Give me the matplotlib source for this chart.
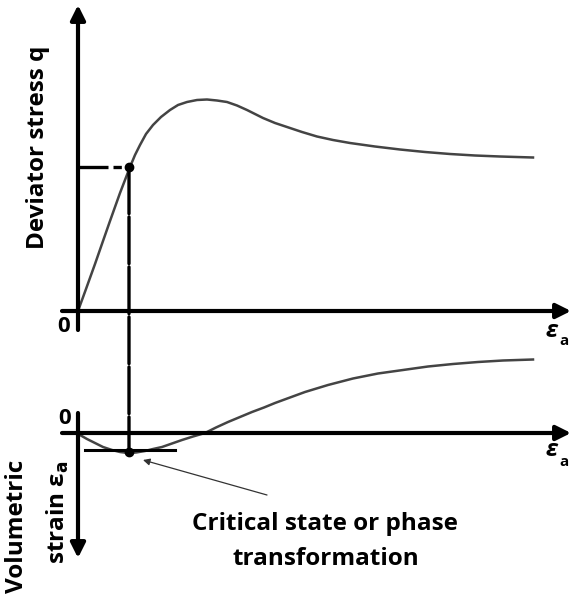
import matplotlib.pyplot as plt
from matplotlib.patches import ConnectionPatch

plt.rcParams['font.family'] = ['Open Sans', 'DejaVu Sans']

# schematic units (arbitrary): axial strain, deviator stress, volumetric strain
strain_q = [0, 8, 17, 25, 32, 42, 52, 57, 62, 68, 75, 83, 92, 100, 109, 119, 129, 139, 149,
            159, 169, 177, 185, 197, 209, 224, 239, 255, 272, 297, 322, 347, 372, 397, 422, 455]
q = [0, 22, 47, 70, 90, 118, 144, 156, 166, 177, 186, 194, 201, 206, 209, 211, 211.5, 210.5, 209,
     205.5, 201, 197, 193, 188, 184, 179, 174.5, 171, 168, 164.5, 161.5, 159, 157, 155.5, 154.5, 153.5]

strain_v = [0, 2, 9, 17, 25, 34, 42, 50, 58, 67, 75, 84, 94, 104, 115, 127, 138, 150, 162, 174,
            186, 197, 212, 227, 250, 275, 300, 325, 350, 375, 400, 425, 455]
vol = [0, 2, 6, 10, 14, 17, 19, 20, 19.5, 18, 16, 14, 10.5, 7, 3.5, 0, -5.5, -11, -16, -21,
       -25.5, -30, -35.5, -41, -48, -54.5, -59.5, -63, -66.5, -69, -71, -72.5, -73.5]

crit_strain = 51
crit_q = 144
crit_vol = 19

curve_col = '#444444'

fig = plt.figure(figsize=(5.72, 5.98), dpi=100)
top = fig.add_axes([0, 268 / 598, 1, 330 / 598])
bot = fig.add_axes([0, 0, 1, 268 / 598])
top.set_xlim(-78, 494)
top.set_ylim(-19, 311)
bot.set_xlim(-78, 494)
bot.set_ylim(165, -103)
for ax in (top, bot):
    ax.axis('off')

arrow = dict(arrowstyle='-|>', lw=3, color='black', mutation_scale=22, shrinkA=0, shrinkB=0)

# top panel
top.annotate('', xy=(0, 306), xytext=(0, -19), arrowprops=arrow)
top.annotate('', xy=(493, 0), xytext=(-16, 0), arrowprops=arrow)
top.plot(strain_q, q, color=curve_col, lw=1.8, solid_joinstyle='round')
top.plot([0, crit_strain], [crit_q, crit_q], color='black', lw=2.4, dashes=(9, 1.5, 2.5, 1.5))
top.plot(crit_strain, crit_q, 'o', color='black', ms=6)
top.text(-14, -16, '0', fontsize=16, fontweight='bold', ha='center', va='center')
top.text(-40, 164, 'Deviator stress q', fontsize=17.5, fontweight='bold', rotation=90,
         ha='center', va='center')
top.text(474, -20, 'ε', fontsize=17, fontweight='bold', style='italic', ha='center', va='center')
top.text(486, -30, 'a', fontsize=11, fontweight='bold', ha='center', va='center')

# lower panel
bot.annotate('', xy=(0, 125), xytext=(0, -20), arrowprops=arrow)
bot.annotate('', xy=(493, 0), xytext=(-16, 0), arrowprops=arrow)
bot.plot(strain_v, vol, color=curve_col, lw=1.8, solid_joinstyle='round')
bot.plot([7, 97], [17, 17], color='black', lw=2.2)
bot.plot(crit_strain, crit_vol, 'o', color='black', ms=6)
bot.text(-13, -14, '0', fontsize=16, fontweight='bold', ha='center', va='center')
bot.text(474, 17, 'ε', fontsize=17, fontweight='bold', style='italic', ha='center', va='center')
bot.text(486, 29, 'a', fontsize=11, fontweight='bold', ha='center', va='center')
bot.text(-61, 27, 'Volumetric', fontsize=17.5, fontweight='bold', rotation=90,
         ha='center', va='top')
bot.text(-20, 27, 'strain ε$_\\mathbf{a}$', fontsize=17.5, fontweight='bold', rotation=90,
         ha='center', va='top')
bot.annotate('', xy=(65, 27), xytext=(189, 62),
             arrowprops=dict(arrowstyle='-|>', lw=0.9, color='#333333', mutation_scale=10,
                             shrinkA=0, shrinkB=0))
bot.text(247, 97, 'Critical state or phase', fontsize=17.5, fontweight='bold',
         ha='center', va='baseline')
bot.text(248, 132, 'transformation', fontsize=17.5, fontweight='bold',
         ha='center', va='baseline')

# dashed drop line linking both panels
con = ConnectionPatch(xyA=(crit_strain, crit_q), coordsA=top.transData,
                      xyB=(crit_strain, crit_vol), coordsB=bot.transData,
                      color='black', lw=2.4, linestyle=(0, (14, 1)))
fig.add_artist(con)

fig.savefig('out.png', dpi=100)
